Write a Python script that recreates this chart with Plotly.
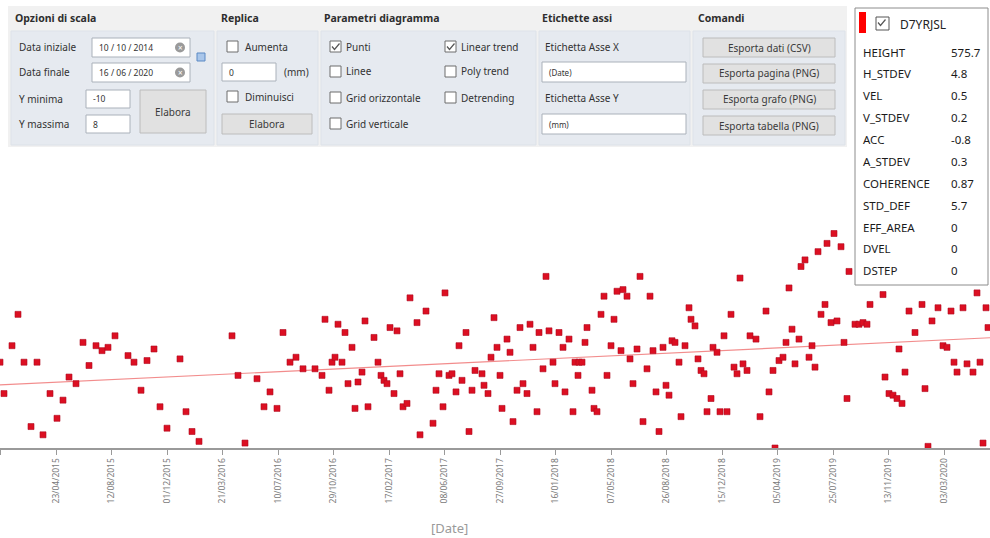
import numpy as np
import pandas as pd
import plotly.graph_objects as go

# ---------------------------------------------------------------- data
point_id = "D7YRJSL"
date_start = "2014-10-10"
date_end = "2020-06-16"
y_min, y_max = -10, 8

dates = [
    "2015-01-01", "2015-01-09", "2015-01-25", "2015-02-06", "2015-02-18", "2015-03-04", "2015-03-16", "2015-03-28", "2015-04-11", "2015-04-25",
    "2015-05-07", "2015-05-19", "2015-06-02", "2015-06-16", "2015-06-28", "2015-07-12", "2015-07-24", "2015-08-05", "2015-08-19", "2015-09-14",
    "2015-09-26", "2015-10-10", "2015-10-22", "2015-11-05", "2015-11-17", "2015-12-01", "2015-12-27", "2016-01-08", "2016-01-20", "2016-02-03",
    "2016-04-09", "2016-04-21", "2016-05-05", "2016-05-29", "2016-06-12", "2016-06-24", "2016-07-08", "2016-07-20", "2016-08-03", "2016-08-15",
    "2016-08-29", "2016-09-22", "2016-10-06", "2016-10-12", "2016-10-20", "2016-10-26", "2016-11-01", "2016-11-07", "2016-11-15", "2016-11-21",
    "2016-11-27", "2016-12-05", "2016-12-11", "2016-12-17", "2016-12-25", "2016-12-31", "2017-01-06", "2017-01-18", "2017-01-26", "2017-02-01",
    "2017-02-07", "2017-02-13", "2017-02-19", "2017-02-27", "2017-03-05", "2017-03-11", "2017-03-17", "2017-03-25", "2017-03-31", "2017-04-14",
    "2017-04-20", "2017-05-02", "2017-05-16", "2017-05-22", "2017-05-28", "2017-06-05", "2017-06-09", "2017-06-17", "2017-06-23", "2017-07-01",
    "2017-07-07", "2017-07-13", "2017-07-21", "2017-07-27", "2017-08-02", "2017-08-08", "2017-08-22", "2017-08-26", "2017-09-03", "2017-09-09",
    "2017-09-15", "2017-09-21", "2017-09-27", "2017-10-01", "2017-10-11", "2017-10-17", "2017-10-23", "2017-10-31", "2017-11-06", "2017-11-12",
    "2017-11-20", "2017-11-26", "2017-12-02", "2017-12-10", "2017-12-14", "2017-12-22", "2017-12-28", "2018-01-03", "2018-01-11", "2018-01-15",
    "2018-01-23", "2018-01-31", "2018-02-04", "2018-02-12", "2018-02-20", "2018-02-24", "2018-03-02", "2018-03-04", "2018-03-10", "2018-03-16",
    "2018-03-20", "2018-03-30", "2018-04-03", "2018-04-09", "2018-04-17", "2018-04-23", "2018-04-29", "2018-05-07", "2018-05-13", "2018-05-19",
    "2018-05-27", "2018-05-31", "2018-06-08", "2018-06-14", "2018-06-20", "2018-06-28", "2018-07-04", "2018-07-10", "2018-07-18", "2018-07-24",
    "2018-07-30", "2018-08-05", "2018-08-11", "2018-08-19", "2018-08-25", "2018-08-31", "2018-09-06", "2018-09-12", "2018-09-20", "2018-09-24",
    "2018-10-02", "2018-10-10", "2018-10-14", "2018-10-22", "2018-10-28", "2018-11-03", "2018-11-09", "2018-11-15", "2018-11-23", "2018-11-27",
    "2018-12-05", "2018-12-11", "2018-12-19", "2018-12-25", "2019-01-02", "2019-01-08", "2019-01-14", "2019-01-20", "2019-01-26", "2019-02-03",
    "2019-02-09", "2019-02-21", "2019-03-01", "2019-03-13", "2019-03-19", "2019-03-27", "2019-03-31", "2019-04-08", "2019-04-16", "2019-04-22",
    "2019-04-28", "2019-05-04", "2019-05-10", "2019-05-18", "2019-05-22", "2019-05-30", "2019-06-07", "2019-06-13", "2019-06-19", "2019-06-25",
    "2019-07-01", "2019-07-09", "2019-07-13", "2019-07-21", "2019-07-27", "2019-08-02", "2019-08-10", "2019-08-16", "2019-08-22", "2019-08-26",
    "2019-09-07", "2019-09-15", "2019-09-23", "2019-10-01", "2019-10-07", "2019-11-02", "2019-11-06", "2019-11-14", "2019-11-22", "2019-11-30",
    "2019-12-04", "2019-12-10", "2019-12-16", "2019-12-24", "2020-01-05", "2020-01-19", "2020-01-25", "2020-01-31", "2020-02-08", "2020-02-20",
    "2020-03-01", "2020-03-09", "2020-03-17", "2020-03-23", "2020-03-29", "2020-04-10", "2020-04-18", "2020-04-30", "2020-05-08", "2020-05-14",
    "2020-05-20", "2020-05-26", "2020-05-30",
]

disp_mm = [
    -4.8, -6.7, -3.8, -1.9, -4.8, -8.7, -4.8, -9.2, -6.7, -8.2,
    -7.1, -5.7, -6.1, -3.6, -5.0, -3.8, -4.1, -3.9, -3.2, -4.4,
    -4.8, -6.5, -4.7, -4.0, -7.5, -8.8, -4.6, -7.8, -9.0, -9.6,
    -3.2, -5.6, -9.7, -5.8, -7.5, -6.6, -7.6, -3.0, -4.8, -4.5,
    -5.2, -5.2, -5.6, -2.2, -6.5, -4.8, -4.5, -2.5, -4.8, -3.0,
    -6.1, -3.9, -7.6, -6.0, -5.4, -2.3, -7.5, -3.3, -4.8, -5.6,
    -5.9, -6.1, -2.7, -6.7, -2.9, -5.5, -7.5, -7.3, -0.9, -2.4,
    -9.2, -1.7, -8.5, -6.5, -5.5, -7.5, -0.6, -5.6, -5.5, -6.6,
    -3.8, -5.9, -3.0, -9.0, -6.5, -5.3, -5.5, -6.2, -6.7, -4.5,
    -2.1, -3.9, -5.6, -7.6, -3.4, -4.2, -8.4, -6.5, -2.7, -6.1,
    -6.7, -2.5, -3.9, -7.8, -3.0, -5.2, 0.4, -2.9, -4.8, -6.1,
    -3.0, -3.9, -6.6, -3.4, -7.8, -4.8, -5.6, -4.8, -4.8, -3.6,
    -2.7, -6.5, -7.6, -7.8, -1.9, -0.8, -5.6, -3.8, -2.2, -0.5,
    -4.1, -0.4, -0.8, -4.6, -6.1, -4.0, 0.4, -8.4, -5.2, -0.8,
    -4.1, -6.6, -9.0, -3.9, -6.2, -6.8, -3.5, -3.6, -4.8, -8.1,
    -3.8, -1.5, -2.2, -2.6, -4.6, -5.3, -5.5, -7.8, -7.0, -3.9,
    -4.2, -7.8, -3.2, -7.8, -1.9, -5.1, -5.5, 0.3, -4.9, -5.3,
    -3.2, -3.4, -8.1, -1.7, -6.6, -5.3, -10.0, -4.7, -4.5, -3.6,
    -0.3, -2.8, -4.9, -3.4, 1.0, 1.4, -4.5, -3.8, -5.1, 1.9,
    -1.9, -1.3, 2.4, -2.4, 3.0, -2.3, 2.2, -3.6, -7.0, 0.7,
    -2.5, -2.5, -2.4, -2.5, -1.3, -0.7, -5.7, -6.7, -6.8, -7.0,
    -4.0, -7.3, -5.4, -1.7, -3.0, -1.3, -6.4, -9.9, -2.3, -1.5,
    -3.8, -3.9, -1.7, -4.8, -5.4, -1.5, -4.9, -5.4, -0.6, -4.8,
    -9.7, -1.5, -2.7,
]

tick_dates = [
    "2015-01-02", "2015-04-23", "2015-08-12", "2015-12-01", "2016-03-21", "2016-07-10",
    "2016-10-29", "2017-02-17", "2017-06-08", "2017-09-27", "2018-01-16", "2018-05-07",
    "2018-08-26", "2018-12-15", "2019-04-05", "2019-07-25", "2019-11-13", "2020-03-03",
]

x_view = ["2015-01-01", "2020-06-03"]

stat_names = ["HEIGHT", "H_STDEV", "VEL", "V_STDEV", "ACC", "A_STDEV",
              "COHERENCE", "STD_DEF", "EFF_AREA", "DVEL", "DSTEP"]
stat_values = ["575.7", "4.8", "0.5", "0.2", "-0.8", "0.3",
               "0.87", "5.7", "0", "0", "0"]

assert len(dates) == len(disp_mm)

# ---------------------------------------------------------------- figure geometry
W, H = 990, 538
M_T, M_B = 151, 90
PLOT_H = H - M_T - M_B
AXIS_Y = H - M_B


def X(x):
    return x / W


def Y(y):
    return (AXIS_Y - y) / PLOT_H


UI_FONT = "Noto Sans"
shapes, annotations = [], []


def rect(x0, y0, x1, y1, fill, line="rgba(0,0,0,0)", lw=1, layer="above"):
    shapes.append(dict(type="rect", xref="paper", yref="paper",
                       x0=X(x0), x1=X(x1), y0=Y(y1), y1=Y(y0),
                       fillcolor=fill, line=dict(color=line, width=lw), layer=layer))


def text(x, y, s, size=10, color="#333333", bold=False, anchor="left", family=UI_FONT):
    if bold:
        s = "<b>" + s + "</b>"
    annotations.append(dict(xref="paper", yref="paper", x=X(x), y=Y(y), text=s,
                            showarrow=False, xanchor=anchor, yanchor="middle",
                            font=dict(family=family, size=size, color=color)))


def checkbox(x, y, checked=False, size=11, line="#6d6d6d"):
    rect(x, y, x + size, y + size, "#ffffff", line)
    if checked:
        pts = [(x + 2, y + 5.5), (x + 4.5, y + 8.5), (x + 9.5, y + 2.5)]
        path = "M " + " L ".join(f"{X(a):.5f},{Y(b):.5f}" for a, b in pts)
        shapes.append(dict(type="path", xref="paper", yref="paper", path=path,
                           line=dict(color="#555555", width=1.2)))


def field(x0, y0, x1, y1, value="", size=9):
    rect(x0, y0, x1, y1, "#ffffff", "#aab1ba")
    if value:
        text(x0 + 5, (y0 + y1) / 2, value, size=size, color="#333333")


def button(x0, y0, x1, y1, label, size=10.5):
    rect(x0, y0, x1, y1, "#e1e1e1", "#bcbcbc")
    text((x0 + x1) / 2, (y0 + y1) / 2, label, size=size, color="#3a3a3a", anchor="center")


def clear_icon(cx, cy, r=5):
    shapes.append(dict(type="circle", xref="paper", yref="paper",
                       x0=X(cx - r), x1=X(cx + r), y0=Y(cy + r), y1=Y(cy - r),
                       fillcolor="#9a9a9a", line=dict(width=0)))
    text(cx, cy, "×", size=8, color="#ffffff", anchor="center")


# ---------------------------------------------------------------- control panel
rect(8, 6, 847, 147, "#f1f1f1")
for x0, x1 in [(11, 214), (217, 318), (321, 536), (539, 690), (693, 845)]:
    rect(x0, 31, x1, 145, "#e6eaf0", "#dde2e9")

text(13, 18, "Opzioni di scala", size=10.5, color="#2e2e2e", bold=True)
text(219, 18, "Replica", size=10.5, color="#2e2e2e", bold=True)
text(322, 18, "Parametri diagramma", size=10.5, color="#2e2e2e", bold=True)
text(540, 18, "Etichette assi", size=10.5, color="#2e2e2e", bold=True)
text(696, 18, "Comandi", size=10.5, color="#2e2e2e", bold=True)

# scale options
text(17, 47, "Data iniziale", size=10)
field(92, 38, 190, 57, "10 / 10 / 2014", size=8.5)
clear_icon(180, 47.5)
text(17, 72, "Data finale", size=10)
field(92, 63, 190, 82, "16 / 06 / 2020", size=8.5)
clear_icon(180, 72.5)
rect(197, 53, 205, 61, "#a9c6ea", "#5b89c4")
text(17, 99, "Y minima", size=10)
field(86, 90, 130, 108, "-10", size=8.5)
text(17, 124, "Y massima", size=10)
field(86, 115, 130, 133, "8", size=8.5)
button(140, 90, 206, 133, "Elabora", size=10)

# replica
checkbox(227, 41)
text(243, 47, "Aumenta", size=10)
field(222, 63, 276, 81, "0", size=8.5)
text(282, 72, "(mm)", size=10)
checkbox(227, 91)
text(243, 97, "Diminuisci", size=10)
button(222, 114, 312, 134, "Elabora", size=10)

# chart parameters
for (cx, cy, lbl, on) in [(330, 41, "Punti", True), (330, 66, "Linee", False),
                          (330, 92, "Grid orizzontale", False), (330, 118, "Grid verticale", False),
                          (445, 41, "Linear trend", True), (445, 66, "Poly trend", False),
                          (445, 92, "Detrending", False)]:
    checkbox(cx, cy, on)
    text(cx + 14, cy + 5.5, lbl, size=10)

# axis labels
text(543, 47, "Etichetta Asse X", size=10)
field(542, 62, 686, 82, "(Date)", size=8)
text(543, 98, "Etichetta Asse Y", size=10)
field(542, 114, 686, 134, "(mm)", size=8)

# commands
for (y0, lbl) in [(38, "Esporta dati (CSV)"), (64, "Esporta pagina (PNG)"),
                  (90, "Esporta grafo (PNG)"), (116, "Esporta tabella (PNG)")]:
    button(703, y0, 835, y0 + 19, lbl, size=10)

# ---------------------------------------------------------------- point info box
rect(855, 8, 988, 285, "#ffffff", "#8c8c8c")
rect(859, 12, 866, 33, "#ff0000")
checkbox(876, 17, True, size=13, line="#555555")
text(898, 24, point_id, size=12, color="#222222", family="Noto Sans")
row_y = [52, 73.5, 95.5, 117, 139, 161, 183, 205, 227, 248.5, 270]
for yy, name, val in zip(row_y, stat_names, stat_values):
    text(861, yy, name, size=11.5, color="#1a1a1a", family="Noto Sans")
    text(949, yy, val, size=11.5, color="#1a1a1a", family="Noto Sans")

# ---------------------------------------------------------------- axis title
text(449, 528, "[Date]", size=13, color="#9a9a9a", anchor="center")

# ---------------------------------------------------------------- traces
t = pd.to_datetime(pd.Series(dates))
days = (t - t.iloc[0]).dt.days.to_numpy(dtype=float)
slope, intercept = np.polyfit(days, np.array(disp_mm), 1)
trend_x = pd.to_datetime([date_start, date_end])
trend_days = (trend_x - t.iloc[0]).days.to_numpy(dtype=float)
trend_y = slope * trend_days + intercept

fig = go.Figure()
fig.add_trace(go.Scatter(
    x=trend_x, y=trend_y, mode="lines",
    line=dict(color="rgba(240,120,120,0.85)", width=1.2),
    hoverinfo="skip", showlegend=False,
))
fig.add_trace(go.Scatter(
    x=t, y=disp_mm, mode="markers",
    marker=dict(symbol="square", size=6, color="#dc0f22",
                line=dict(color="#b00a20", width=0.6)),
    name=point_id, showlegend=False,
))

tick_text = [pd.Timestamp(d).strftime("%d/%m/%Y") for d in tick_dates]

fig.update_layout(
    width=W, height=H,
    margin=dict(l=0, r=0, t=M_T, b=M_B, pad=0),
    paper_bgcolor="#ffffff", plot_bgcolor="#ffffff",
    showlegend=False,
    shapes=shapes, annotations=annotations,
    xaxis=dict(
        type="date", range=x_view,
        tickmode="array", tickvals=tick_dates, ticktext=tick_text,
        tickangle=-90, tickfont=dict(family="Noto Sans", size=8.5, color="#7a7a7a"),
        ticks="outside", ticklen=5, tickcolor="#9a9a9a",
        showline=True, linecolor="#9a9a9a", linewidth=1.5,
        showgrid=False, zeroline=False,
    ),
    yaxis=dict(
        range=[y_min, y_max], showticklabels=False, showgrid=False,
        zeroline=False, showline=False, ticks="",
    ),
)

fig.write_html("out.html")
